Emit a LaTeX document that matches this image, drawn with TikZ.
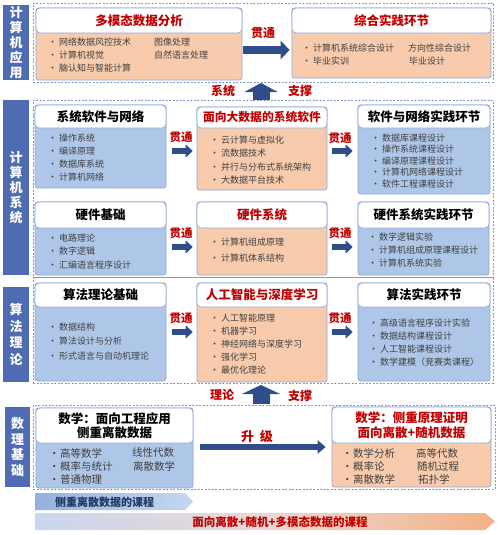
\documentclass[tikz,border=0pt]{standalone}
\usepackage{fontspec}
\setmainfont{Noto Sans CJK SC}
\usetikzlibrary{arrows.meta,fit,calc}
\definecolor{barC}{HTML}{4F6CB3}
\definecolor{frameC}{HTML}{7F9ACB}
\definecolor{edgeC}{HTML}{8FA8D6}
\definecolor{blueB}{HTML}{AEC7E8}
\definecolor{salB}{HTML}{F8CBAD}
\definecolor{redC}{HTML}{C00000}
\definecolor{arrC}{HTML}{2F4D8A}
\definecolor{itemC}{HTML}{404040}
\definecolor{navyT}{HTML}{203864}
\definecolor{barAL}{HTML}{93B1DE}
\definecolor{barAR}{HTML}{C6D7F0}
\definecolor{barBL}{HTML}{C8D7EE}
\definecolor{barBM}{HTML}{EBD8D4}
\definecolor{barBR}{HTML}{F4B184}
\tikzset{
 frame/.style={draw=frameC, dash pattern=on 2pt off 1.5pt, line width=0.9pt, inner sep=0},
 sidebar/.style={fill=barC, draw=none, text=white, align=center, inner sep=0},
 body/.style={draw=edgeC, line width=0.7pt, rounded corners=2.5pt, inner sep=0},
 head/.style={draw=edgeC, fill=white, line width=0.7pt, rounded corners=4pt, inner sep=0},
 ttl/.style={font=\fontsize{12.5}{14}\selectfont\bfseries, inner sep=0},
 item/.style={anchor=west, inner sep=0, text=itemC, font=\fontsize{9}{10}\selectfont},
 mitem/.style={anchor=west, inner sep=0, text=itemC, font=\fontsize{10.5}{12}\selectfont},
 lbl/.style={text=redC, font=\fontsize{11.5}{13}\selectfont\bfseries, inner sep=0},
 harrow/.style={draw=arrC, line width=6pt, -{Triangle[length=7pt,width=13pt]}},
 uarrow/.style={draw=arrC, line width=17pt, -{Triangle[length=9pt,width=33pt]}},
}
\newcommand\bulx{\makebox[11pt][l]{•}}
\newcommand\mkbox[7]{%
 \node[body, fill=#7, fit={(#2,#3)(#4,#5)}] (#1) {};
 \node[head, fit={(#2,#3)(#4,#6)}] (#1h) {};}
\newcommand\itemlist[5]{%
 \foreach \t [count=\i from 0] in {#5} \node[item] (#1\i) at (#2, #3+#4*\i) {\bulx\t};}
\begin{document}
\begin{tikzpicture}[x=1pt,y=-1pt]
\useasboundingbox (0,0) rectangle (500,535);
% frames
\node[frame, fit={(33,3)(493,82)}] (f1) {};
\node[frame, fit={(33,100)(493,277)}] (f2) {};
\node[frame, fit={(33,277)(493,383)}] (f3) {};
\node[frame, fit={(33,405)(495,489)}] (f4) {};
% side bars
\node[sidebar, minimum width=26pt, minimum height=75pt, font=\fontsize{13}{15}\selectfont\bfseries] (b1) at (16,42.5) {计\\算\\机\\应\\用};
\node[sidebar, minimum width=26pt, minimum height=175pt, font=\fontsize{13}{15}\selectfont\bfseries] (b2) at (16,187.5) {计\\算\\机\\系\\统};
\node[sidebar, minimum width=26pt, minimum height=95pt, font=\fontsize{13}{16.5}\selectfont\bfseries] (b3) at (16,334.5) {算\\法\\理\\论};
\node[sidebar, minimum width=25pt, minimum height=80pt, font=\fontsize{13}{15.5}\selectfont\bfseries] (b4) at (17.5,447) {数\\理\\基\\础};
% boxes
\mkbox{m1}{36}{8}{242}{80}{33}{salB}
\mkbox{m2}{292}{8}{491}{78}{33}{salB}
\mkbox{s1}{35}{105}{166}{188}{128}{blueB}
\mkbox{s2}{197}{107}{327}{190}{128}{salB}
\mkbox{s3}{358}{105}{490}{194}{128}{blueB}
\mkbox{h1}{35}{202}{166}{275}{228}{blueB}
\mkbox{h2}{197}{202}{327}{275}{228}{salB}
\mkbox{h3}{358}{202}{489}{275}{228}{blueB}
\mkbox{a1}{35}{283}{166}{381}{307}{blueB}
\mkbox{a2}{197}{283}{327}{382}{307}{salB}
\mkbox{a3}{358}{283}{490}{381}{307}{blueB}
\mkbox{ml}{36}{408}{193}{488}{443}{blueB}
\mkbox{mr}{332}{407}{491}{487}{443}{salB}
% titles
\node[ttl, text=redC] (m1t) at (m1h) {多模态数据分析};
\node[ttl, text=redC] (m2t) at (m2h) {综合实践环节};
\node[ttl] (s1t) at (s1h) {系统软件与网络};
\node[ttl, text=redC, font=\fontsize{11.8}{14}\selectfont\bfseries] (s2t) at (s2h) {面向大数据的系统软件};
\node[ttl] (s3t) at (s3h) {软件与网络实践环节};
\node[ttl] (h1t) at (h1h) {硬件基础};
\node[ttl, text=redC] (h2t) at (h2h) {硬件系统};
\node[ttl] (h3t) at (h3h) {硬件系统实践环节};
\node[ttl] (a1t) at (a1h) {算法理论基础};
\node[ttl, text=redC] (a2t) at (a2h) {人工智能与深度学习};
\node[ttl] (a3t) at (a3h) {算法实践环节};
\node[ttl, align=center, font=\fontsize{12.5}{14}\selectfont\bfseries] (mlt) at (mlh) {数学：面向工程应用\\侧重离散数据};
\node[ttl, align=center, text=redC, font=\fontsize{12.5}{15}\selectfont\bfseries] (mrt) at (mrh) {数学：侧重原理证明\\面向离散+随机数据};
% item lists
\itemlist{m1i}{48}{42}{13}{网络数据风控技术,计算机视觉,脑认知与智能计算}
\node[item] (m1c0) at (154,42) {图像处理};
\node[item] (m1c1) at (154,55) {自然语言处理};
\itemlist{m2i}{302}{48}{13}{计算机系统综合设计,毕业实训}
\node[item] (m2c0) at (408,48) {方向性综合设计};
\node[item] (m2c1) at (409,61) {毕业设计};
\itemlist{s1i}{48}{138}{13}{操作系统,编译原理,数据库系统,计算机网络}
\itemlist{s2i}{210}{140}{13.3}{云计算与虚拟化,流数据技术,并行与分布式系统架构,大数据平台技术}
\itemlist{s3i}{371}{138}{11.5}{数据库课程设计,操作系统课程设计,编译原理课程设计,计算机网络课程设计,软件工程课程设计}
\itemlist{h1i}{48}{238}{13.5}{电路理论,数字逻辑,汇编语言程序设计}
\itemlist{h2i}{210}{242}{16}{计算机组成原理,计算机体系结构}
\itemlist{h3i}{368}{237}{13}{数字逻辑实验,计算机组成原理课程设计,计算机系统实验}
\itemlist{a1i}{48}{327}{14.5}{数据结构,算法设计与分析,形式语言与自动机理论}
\itemlist{a2i}{210}{318}{13}{人工智能原理,机器学习,神经网络与深度学习,强化学习,最优化理论}
\itemlist{a3i}{369}{323}{13}{高级语言程序设计实验,数据结构课程设计,人工智能课程设计,数学建模（竞赛类课程）}
\foreach \t [count=\i from 0] in {高等数学,概率与统计,普通物理} \node[mitem] (mli\i) at (49,453+13*\i) {\bulx\t};
\node[mitem] (mlc0) at (132,453) {线性代数};
\node[mitem] (mlc1) at (133,466) {离散数学};
\foreach \t [count=\i from 0] in {数学分析,概率论,离散数学} \node[mitem] (mri\i) at (342,453+13*\i) {\bulx\t};
\node[mitem] (mrc0) at (416,453) {高等代数};
\node[mitem] (mrc1) at (417,466) {随机过程};
\node[mitem] (mrc2) at (418,479) {拓扑学};
% horizontal arrows
\coordinate (ya) at (0,50);
\coordinate (y1) at (0,151);
\coordinate (y2) at (0,247);
\coordinate (y3) at (0,332);
\coordinate (yu) at (0,447);
\draw[harrow, line width=8pt, -{Triangle[length=9pt,width=18pt]}, shorten <=1pt, shorten >=2pt] (m1.east |- ya) -- (m2.west |- ya);
\draw[harrow, shorten <=6pt, shorten >=4pt] (s1.east |- y1) -- (s2.west |- y1);
\draw[harrow, shorten <=5pt, shorten >=5pt] (s2.east |- y1) -- (s3.west |- y1);
\draw[harrow, shorten <=6pt, shorten >=4pt] (h1.east |- y2) -- (h2.west |- y2);
\draw[harrow, shorten <=5pt, shorten >=5pt] (h2.east |- y2) -- (h3.west |- y2);
\draw[harrow, shorten <=6pt, shorten >=4pt] (a1.east |- y3) -- (a2.west |- y3);
\draw[harrow, shorten <=5pt, shorten >=5pt] (a2.east |- y3) -- (a3.west |- y3);
\draw[harrow, line width=6.5pt, -{Triangle[length=8pt,width=13pt]}, shorten <=7pt, shorten >=6pt] (ml.east |- yu) -- (mr.west |- yu);
% labels
\node[lbl, font=\fontsize{12}{13}\selectfont\bfseries] (gm) at (263,33) {贯通};
\node[lbl] (gs1) at (181,137) {贯通};
\node[lbl] (gs2) at (340,138) {贯通};
\node[lbl] (gh1) at (181,233) {贯通};
\node[lbl] (gh2) at (340,233) {贯通};
\node[lbl] (ga1) at (181,318) {贯通};
\node[lbl] (ga2) at (340,318) {贯通};
\node[lbl, font=\fontsize{13}{14}\selectfont\bfseries] (sj) at (257,437) {升\hspace{0.45em}级};
% up arrows
\coordinate (u1s) at (261,100);
\coordinate (u1e) at (261,83);
\coordinate (u2s) at (261,404);
\coordinate (u2e) at (261,385);
\draw[uarrow] (u1s) -- (u1e);
\draw[uarrow, -{Triangle[length=9pt,width=38pt]}] (u2s) -- (u2e);
\node[lbl, font=\fontsize{12}{13}\selectfont\bfseries] (xt) at (223,91) {系统};
\node[lbl, font=\fontsize{12}{13}\selectfont\bfseries] (zc1) at (300,91) {支撑};
\node[lbl, font=\fontsize{12}{13}\selectfont\bfseries] (ll) at (222,395) {理论};
\node[lbl, font=\fontsize{12}{13}\selectfont\bfseries] (zc2) at (300,396) {支撑};
% bottom course bars
\shade[left color=barAL, right color=barAR] (35,493) -- (185,493) -- (193,501.5) -- (185,510) -- (35,510) -- cycle;
\node[anchor=west, inner sep=0, text=navyT, font=\fontsize{11}{12}\selectfont\bfseries] (c1) at (55,502) {侧重离散数据的课程};
\shade[left color=barBL, right color=barBR, middle color=barBM] (35,513) -- (485,513) -- (495,521.5) -- (485,530) -- (35,530) -- cycle;
\node[inner sep=0, text=redC, font=\fontsize{11.5}{12}\selectfont\bfseries] (c2) at (280,522) {面向离散+随机+多模态数据的课程};
\end{tikzpicture}
\end{document}
